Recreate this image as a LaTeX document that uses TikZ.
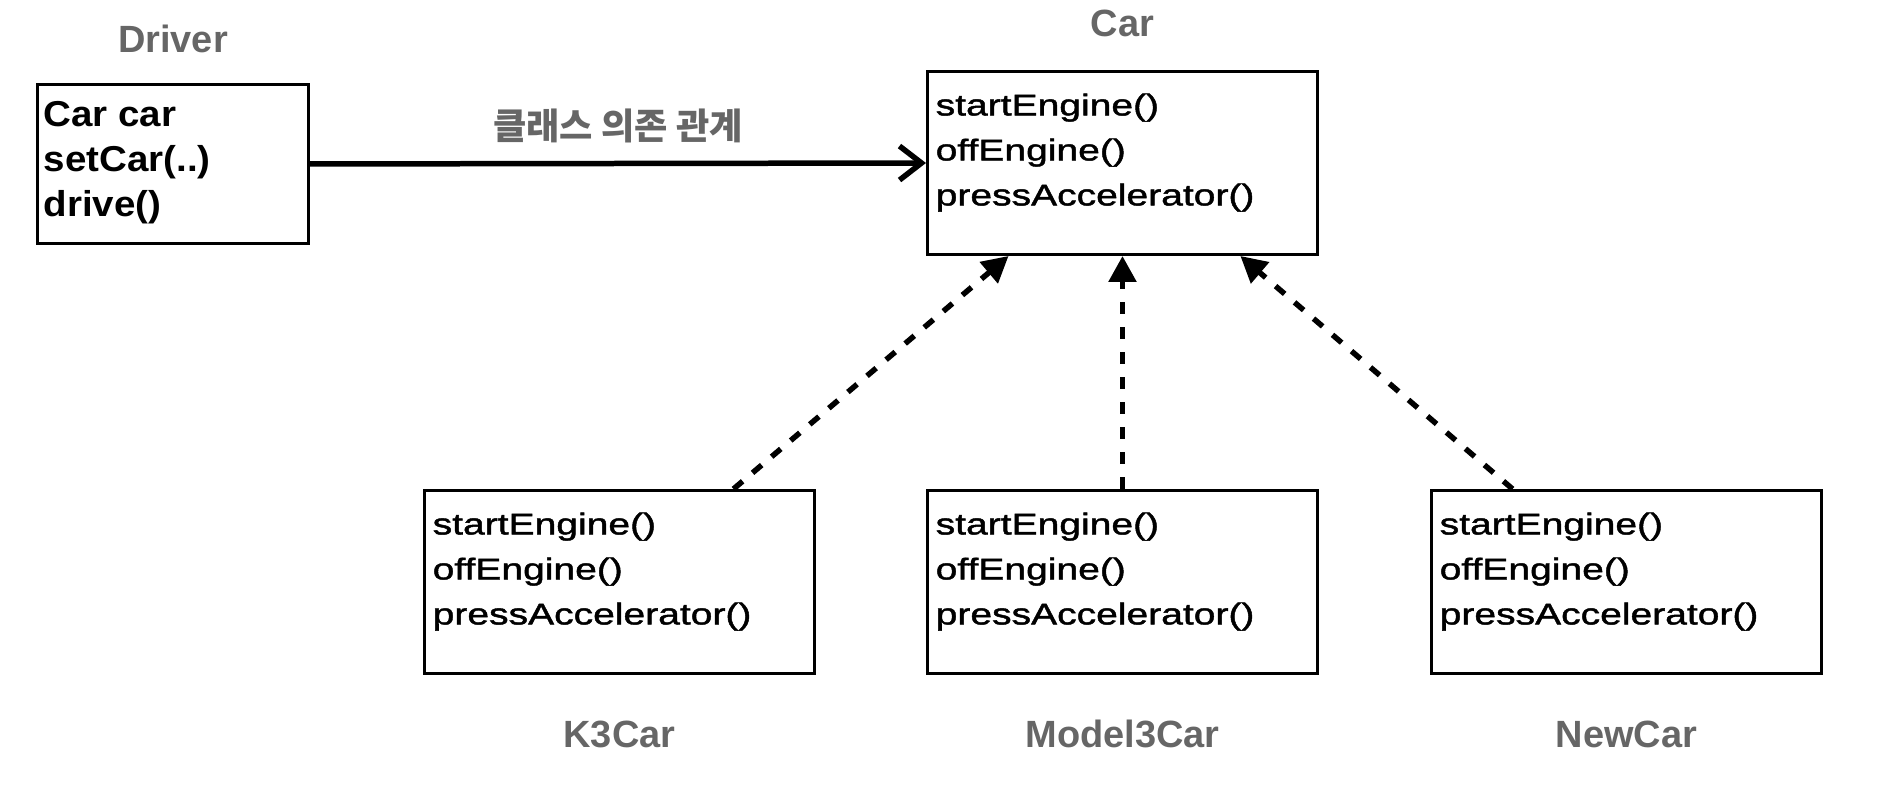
\documentclass[tikz,border=0pt]{standalone}
\usepackage{fontspec}
\setmainfont{Liberation Sans}
\newfontfamily\methodfont{Liberation Sans}[FakeStretch=1.3, FakeBold=1.5]
\newfontfamily\fieldfont{Liberation Sans}[FakeStretch=1.07]
\newfontfamily\korfont{Noto Sans CJK KR}
\usetikzlibrary{arrows.meta, calc}
\definecolor{titlegray}{RGB}{102, 102, 102}

\begin{document}
\begin{tikzpicture}[
    classbox/.style={draw, line width=0.03cm, minimum width=3.9cm, minimum height=1.83cm, anchor=north west, inner sep=0},
    methods/.style={align=left, anchor=north west, inner sep=0, font=\methodfont\fontsize{8.54pt}{12.8pt}\selectfont},
    fields/.style={align=left, anchor=north west, inner sep=0, font=\fieldfont\bfseries\fontsize{10.24pt}{12.8pt}\selectfont},
    title/.style={anchor=base, inner sep=0, text=titlegray, font=\bfseries\fontsize{10.8pt}{13pt}\selectfont},
    uses/.style={line width=0.055cm, -{Straight Barb[length=0.22cm, width=0.34cm]}},
    realizes/.style={line width=0.055cm, dash pattern=on 0.12cm off 0.13cm, -{Triangle[length=0.26cm, width=0.27cm]}}
]
\useasboundingbox (0,0) rectangle (18.78,-8);

% interface
\node[classbox] (car) at (9.26,-0.70) {};
\node[methods] (carList) at ($(car.north west)+(0.09,-0.23)$) {startEngine()\\offEngine()\\pressAccelerator()};
\node[title] (carTitle) at ($(car.north)+(0,0.33)$) {Car};

% client
\node[classbox, minimum width=2.71cm, minimum height=1.59cm] (driver) at (0.36,-0.83) {};
\node[fields] (driverList) at ($(driver.north west)+(0.07,-0.18)$) {Car car\\setCar(..)\\drive()};
\node[title] (driverTitle) at ($(driver.north)+(0,0.30)$) {Driver};

\draw[uses] (driver.east) -- node[inner sep=0, yshift=0.38cm, text=titlegray, font=\korfont\bfseries\fontsize{10.3pt}{12pt}\selectfont] (dependLabel) {클래스 의존 관계} (car.west);

% implementations
\foreach \name/\x/\title in {k3/4.23/K3Car, model3/9.26/Model3Car, newcar/14.30/NewCar} {
    \node[classbox] (\name) at (\x,-4.89) {};
    \node[methods] (\name List) at ($(\name.north west)+(0.09,-0.23)$) {startEngine()\\offEngine()\\pressAccelerator()};
    \node[title] (\name Title) at ($(\name.south)+(0,-0.73)$) {\title};
}

\draw[realizes] ($(k3.north west)!0.79!(k3.north east)$) -- ($(car.south west)!0.21!(car.south east)$);
\draw[realizes] (model3.north) -- (car.south);
\draw[realizes] ($(newcar.north west)!0.21!(newcar.north east)$) -- ($(car.south west)!0.8!(car.south east)$);
\end{tikzpicture}
\end{document}
